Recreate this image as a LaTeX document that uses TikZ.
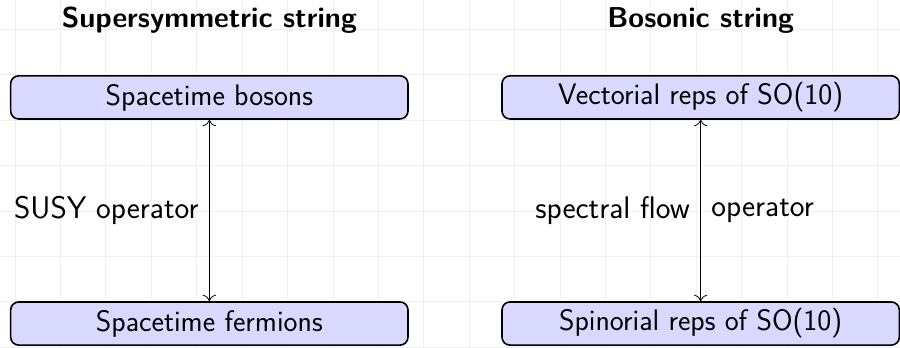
\documentclass[tikz,border=0pt]{standalone}
\usepackage{tikz}
\usetikzlibrary{arrows.meta}
\tikzset{%
	repbox/.style={draw,line width=1pt,rounded corners=5pt,fill=blue!15,minimum width=8.75cm,minimum height=0.95cm,inner sep=2pt,font=\sffamily\fontsize{18.6}{22}\selectfont},
	heading/.style={font=\sffamily\bfseries\fontsize{18}{22}\selectfont},
	oplabel/.style={font=\sffamily\fontsize{19.6}{23}\selectfont,midway,inner sep=6.5pt},
	flow/.style={{Computer Modern Rightarrow[scale=1.5]}-{Computer Modern Rightarrow[scale=1.5]},line width=0.5pt},
}
\begin{document}
\begin{tikzpicture}
			\clip (-0.33,-1) rectangle (19.49,6.645);
			\draw[gray!12, thin] (-1,-2) grid (20,7);
			
			%NASLOVA
			\node[heading] (susy) at (4.28, 6.2) {Supersymmetric string};
			\node[heading] (bos) at (15.1, 6.2) {Bosonic string};
			
			%ŠKATLE
			\node[repbox] (stb) at (4.28, 4.5) {Spacetime bosons}; %levo zgoraj
			\node[repbox] (stf) at (4.28, -0.48) {Spacetime fermions}; %levo spodaj
			\node[repbox] (vec) at (15.1, 4.5) {Vectorial reps of SO(10)}; %desno zgoraj
			\node[repbox] (spi) at (15.1, -0.48) {Spinorial reps of SO(10)}; %desno spodaj
			
			%PUŠČICE
			\draw[flow] (stb) -- (stf) node[oplabel, left] {SUSY operator};
			\draw[flow] (vec) -- (spi) node[oplabel, left] {spectral flow} node[oplabel, right] {operator};
			
			\end{tikzpicture}
\end{document}
